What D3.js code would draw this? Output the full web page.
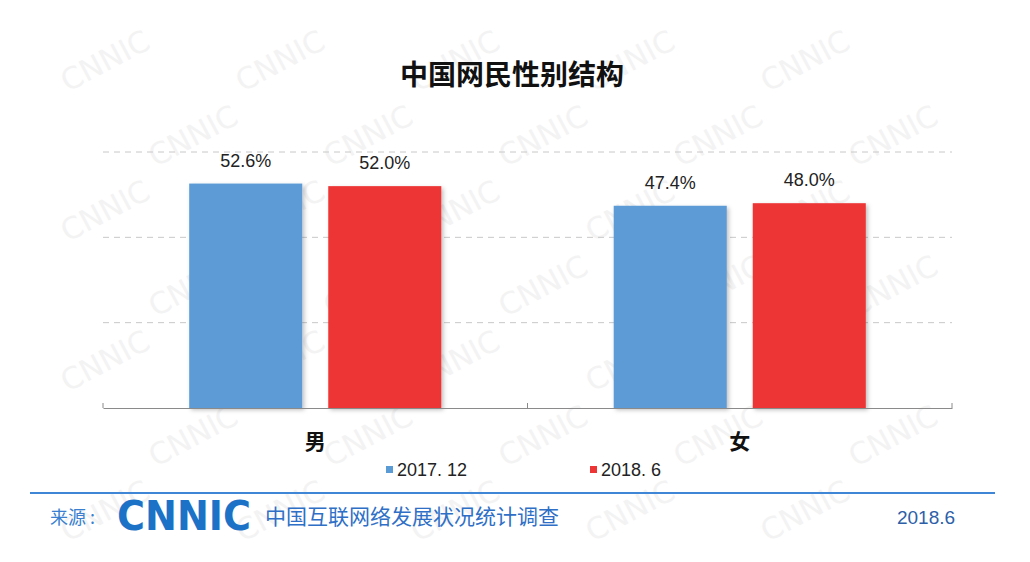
<!DOCTYPE html>
<html><head><meta charset="utf-8">
<script src="https://cdn.jsdelivr.net/npm/d3@7"></script>
<style>body{margin:0;background:#fff}svg{display:block}</style>
</head><body>
<svg id="c" width="1030" height="562"></svg>
<script>
const categories = ["男", "女"];
const seriesNames = ["2017. 12", "2018. 6"];
const values2017 = [52.6, 47.4];
const values2018 = [52.0, 48.0];
const gridTicks = [20, 40, 60];
const title = "中国网民性别结构";

const colors = ["#5b9bd5", "#ee3535"];
const svg = d3.select("#c");
const font = "'Liberation Sans', Arial, 'Noto Sans CJK SC', sans-serif";
const cjk = "'Noto Sans CJK SC', sans-serif";

// watermark (kept fully inside the picture)
const wm = svg.append("g").attr("fill", "#f3f3f3").attr("font-family", "'DejaVu Sans', sans-serif").attr("font-size", 30);
for (let r = 0; r < 7; r++) {
  for (let c = 0; c < 6; c++) {
    const x = 110 + c * 175 + (r % 2) * 88;
    const yy = 70 + r * 75;
    if (x > 960 || yy > 530) continue;
    wm.append("text").attr("transform", `translate(${x},${yy}) rotate(-28)`).attr("text-anchor", "middle").text("CNNIC");
  }
}

const y = d3.scaleLinear().domain([0, 60]).range([408, 152]);
const x0 = d3.scaleBand().domain(categories).range([103, 952]).padding(0);
const x1 = d3.scaleBand().domain(seriesNames).range([0, x0.bandwidth()]).paddingInner(0.187).paddingOuter(0.62);

// gridlines
svg.append("g").selectAll("line").data(gridTicks).join("line")
  .attr("x1", 103).attr("x2", 952)
  .attr("y1", d => y(d)).attr("y2", d => y(d))
  .attr("stroke", "#c8c8c8").attr("stroke-dasharray", "6,5").attr("stroke-width", 1);

// title
svg.append("text").attr("x", 512).attr("y", 85).attr("text-anchor", "middle")
  .attr("font-family", cjk).attr("font-weight", "bold").attr("font-size", 28).attr("fill", "#111").text(title);

// shadow filter
const defs = svg.append("defs");
const f = defs.append("filter").attr("id", "sh").attr("x", "-10%").attr("y", "-10%").attr("width", "130%").attr("height", "130%");
f.append("feDropShadow").attr("dx", 2).attr("dy", 2).attr("stdDeviation", 2).attr("flood-color", "#000").attr("flood-opacity", 0.25);

const data = categories.map((c, i) => ({ cat: c, vals: [values2017[i], values2018[i]] }));
const groups = svg.append("g").selectAll("g").data(data).join("g")
  .attr("transform", d => `translate(${x0(d.cat)},0)`);
groups.selectAll("rect").data(d => d.vals.map((v, j) => ({ v, s: seriesNames[j], j }))).join("rect")
  .attr("x", d => x1(d.s)).attr("width", x1.bandwidth())
  .attr("y", d => y(d.v)).attr("height", d => y(0) - y(d.v))
  .attr("fill", d => colors[d.j]).attr("filter", "url(#sh)");
groups.selectAll("text.lbl").data(d => d.vals.map((v, j) => ({ v, s: seriesNames[j], j }))).join("text")
  .attr("class", "lbl")
  .attr("x", d => x1(d.s) + x1.bandwidth() / 2).attr("y", d => y(d.v) - 17)
  .attr("text-anchor", "middle").attr("font-family", font).attr("font-size", 18).attr("fill", "#222")
  .text(d => d.v.toFixed(1) + "%");

// axis
const ax = svg.append("g").attr("transform", `translate(0,${y(0)})`)
  .call(d3.axisBottom(x0).tickSize(0).tickPadding(22));
ax.select(".domain").attr("stroke", "#8a8a8a");
ax.selectAll(".tick text").attr("font-family", cjk).attr("font-size", 21).attr("font-weight", "bold").attr("fill", "#111").attr("dy", "0.9em");
const bounds = [103, 103 + x0.step(), 952];
svg.append("g").selectAll("line").data(bounds).join("line")
  .attr("x1", d => d).attr("x2", d => d).attr("y1", y(0) - 5).attr("y2", y(0))
  .attr("stroke", "#8a8a8a");

// legend
const legX = [386, 590];
const lg = svg.append("g").selectAll("g").data(seriesNames).join("g")
  .attr("transform", (d, i) => `translate(${legX[i]},470)`);
lg.append("rect").attr("x", 0).attr("y", -4).attr("width", 7).attr("height", 7).attr("fill", (d, i) => colors[i]);
lg.append("text").attr("x", 11).attr("y", 6).attr("font-family", font).attr("font-size", 18).attr("fill", "#222").text(d => d);

// footer
svg.append("line").attr("x1", 30).attr("x2", 995).attr("y1", 493).attr("y2", 493).attr("stroke", "#3f86d6").attr("stroke-width", 2);
svg.append("text").attr("x", 50).attr("y", 524).attr("font-family", cjk).attr("font-size", 18).attr("fill", "#3a7fd0").text("来源 :");
svg.append("text").attr("x", 117).attr("y", 530).attr("font-family", "'DejaVu Sans', sans-serif").attr("font-weight", "bold")
  .attr("font-size", 40).attr("textLength", 134).attr("lengthAdjust", "spacingAndGlyphs").attr("fill", "#1b72c6").text("CNNIC");
svg.append("text").attr("x", 265).attr("y", 524).attr("font-family", cjk).attr("font-size", 21).attr("fill", "#2f6fc6").text("中国互联网络发展状况统计调查");
svg.append("text").attr("x", 926).attr("y", 524).attr("text-anchor", "middle").attr("font-family", font).attr("font-size", 19).attr("fill", "#2d5fa8").text("2018.6");
</script>
</body></html>
